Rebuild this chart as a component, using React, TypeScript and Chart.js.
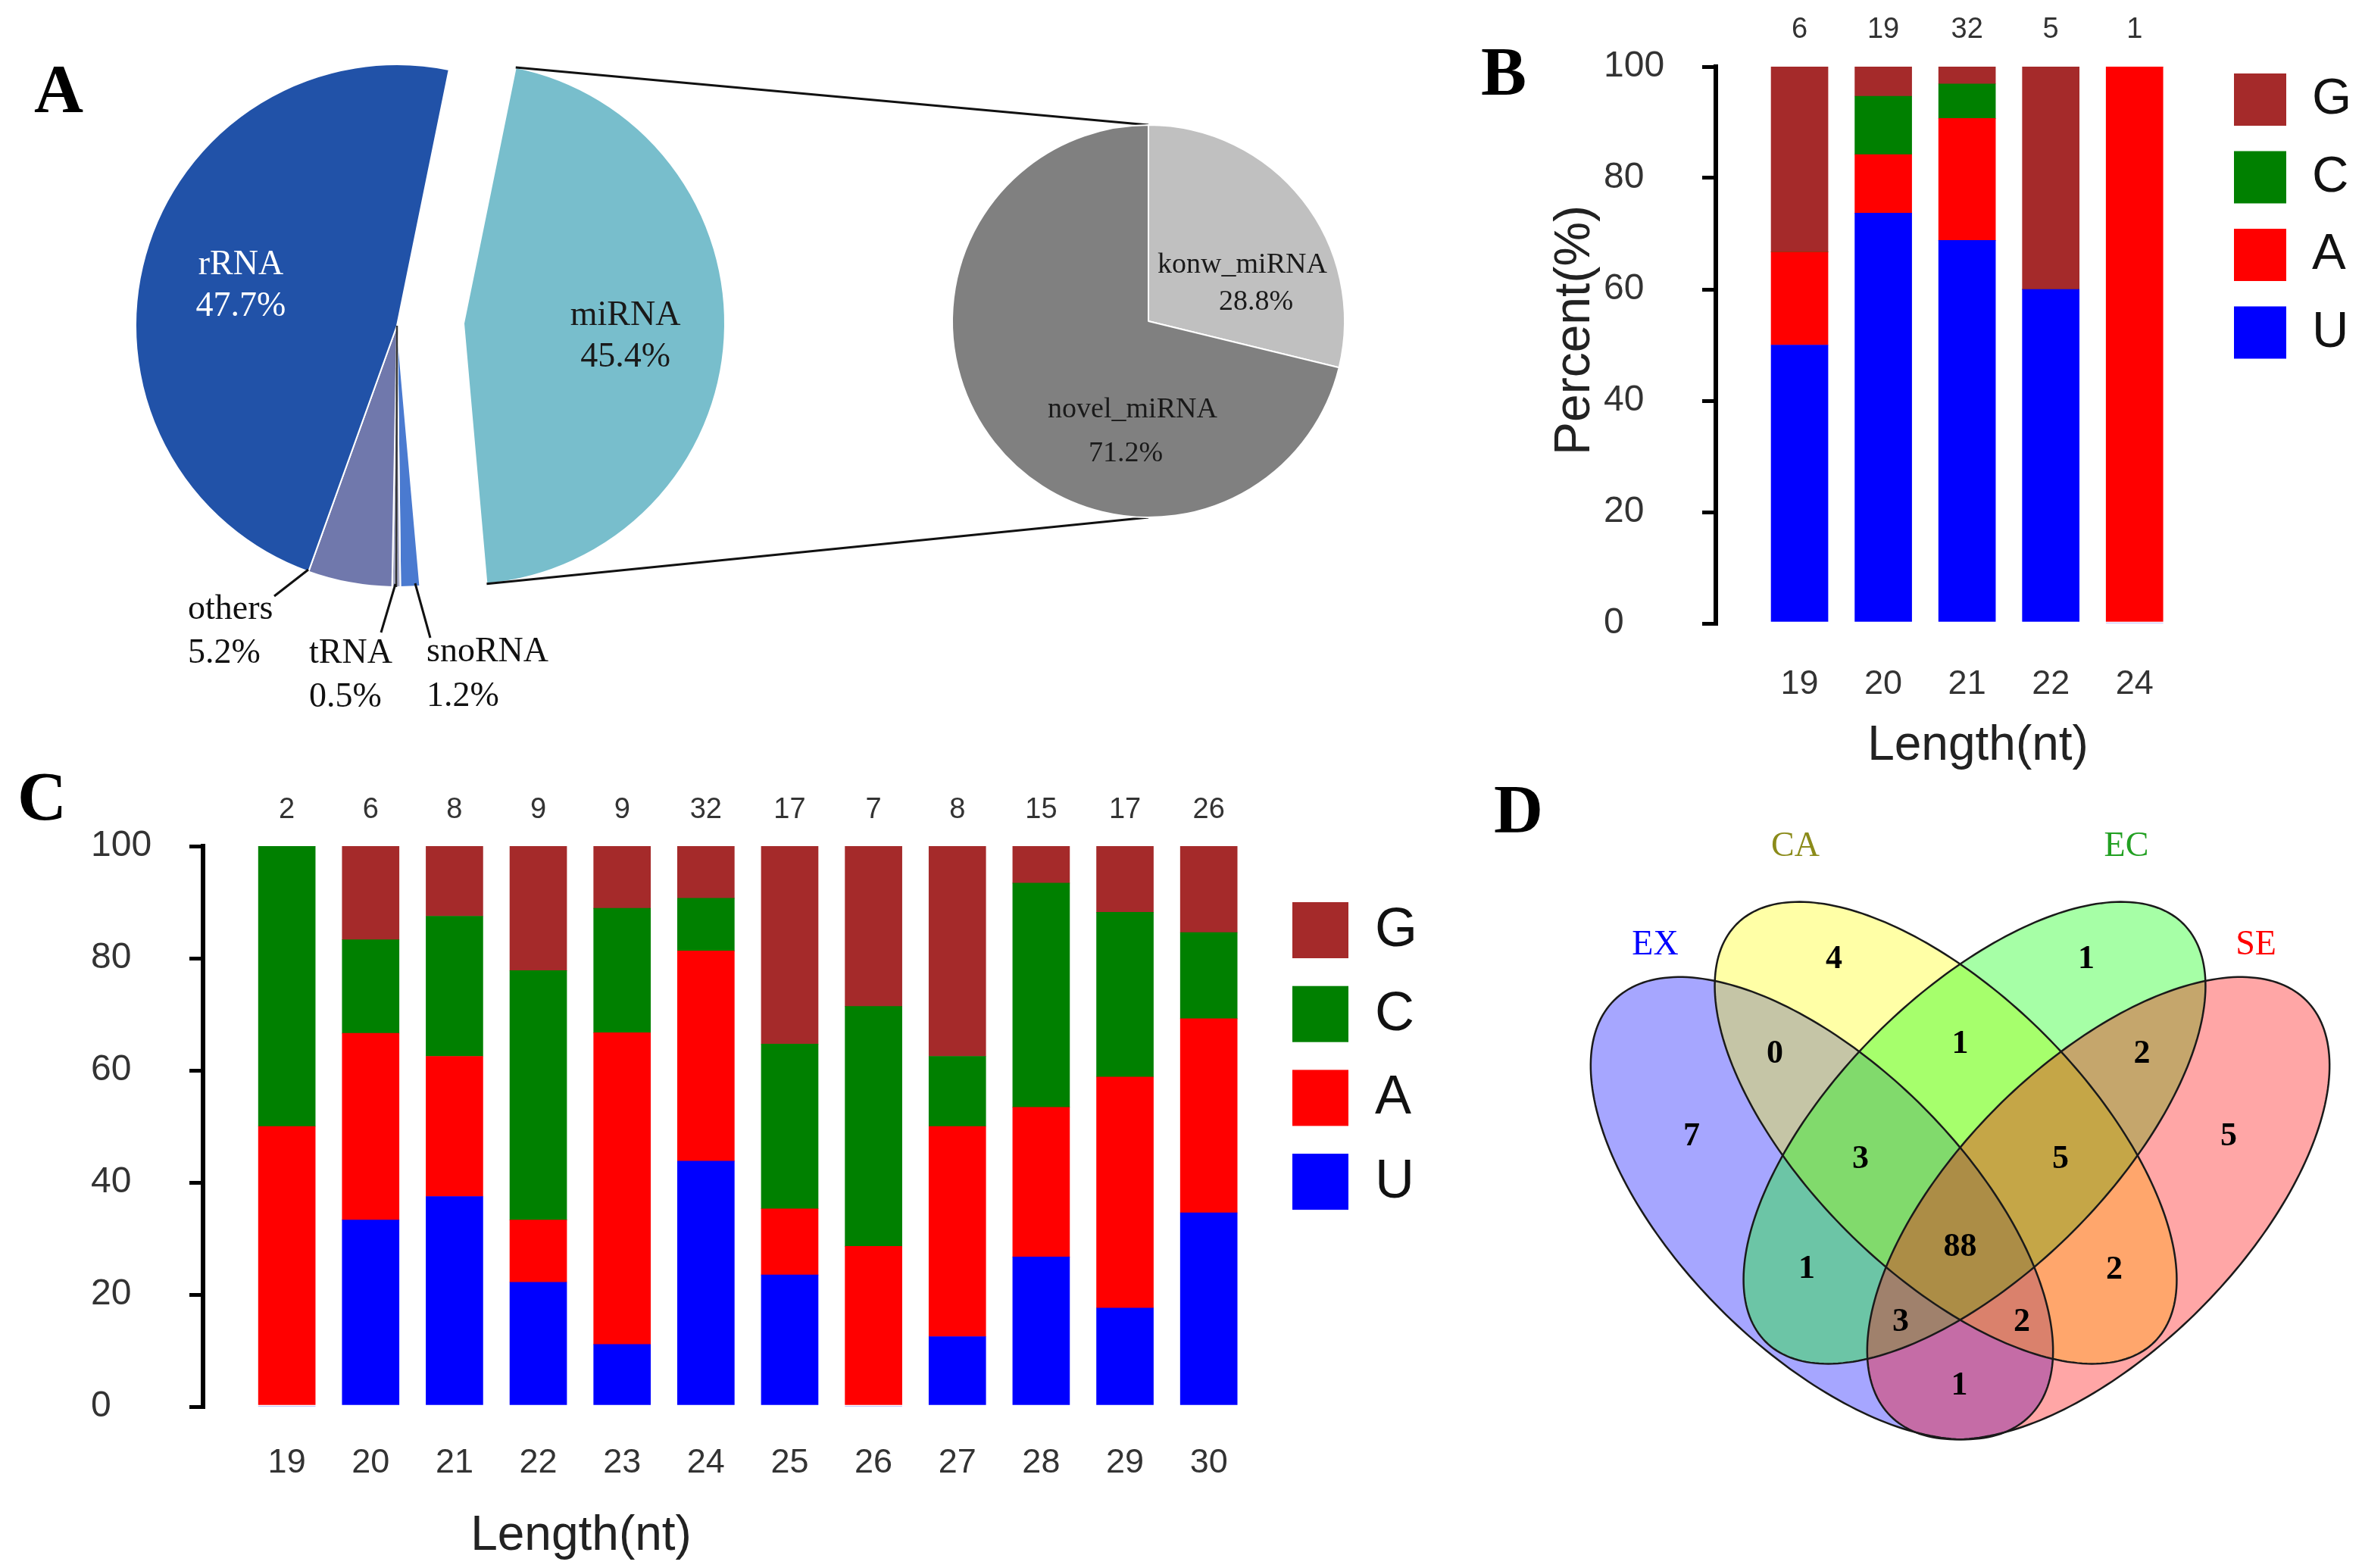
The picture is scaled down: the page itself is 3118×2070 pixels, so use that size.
import React, { useEffect, useRef } from 'react';
import { Chart, registerables } from 'chart.js';

Chart.register(...registerables);

// ---------------- data ----------------
const PIE_LABELS = ['miRNA', 'snoRNA', 'tRNA', 'others', 'rRNA'];
const PIE_VALUES = [45.4, 1.2, 0.5, 5.2, 47.7];

const MIRNA_LABELS = ['konw_miRNA', 'novel_miRNA'];
const MIRNA_VALUES = [28.8, 71.2];

const BASES = ['U', 'A', 'C', 'G'];

const B_LENGTHS = ['19', '20', '21', '22', '24'];
const B_COUNTS = [6, 19, 32, 5, 1];
const B_U = [50.0, 73.7, 68.8, 60.0, 0];
const B_A = [16.7, 10.5, 21.9, 0, 100];
const B_C = [0, 10.5, 6.2, 0, 0];
const B_G = [33.3, 5.3, 3.1, 40.0, 0];

const C_LENGTHS = ['19', '20', '21', '22', '23', '24', '25', '26', '27', '28', '29', '30'];
const C_COUNTS = [2, 6, 8, 9, 9, 32, 17, 7, 8, 15, 17, 26];
const C_U = [0, 33.3, 37.5, 22.2, 11.1, 43.8, 23.5, 0, 12.5, 26.7, 17.6, 34.6];
const C_A = [50.0, 33.3, 25.0, 11.1, 55.6, 37.5, 11.8, 28.6, 37.5, 26.7, 41.2, 34.6];
const C_C = [50.0, 16.7, 25.0, 44.5, 22.2, 9.4, 29.4, 42.8, 12.5, 40.0, 29.4, 15.4];
const C_G = [0, 16.7, 12.5, 22.2, 11.1, 9.3, 35.3, 28.6, 37.5, 6.6, 11.8, 15.4];

const VENN_SETS = ['EX', 'CA', 'EC', 'SE'];
const VENN_REGIONS = ['EX', 'CA', 'EC', 'SE', 'EX&CA', 'CA&EC', 'EC&SE', 'EX&EC', 'CA&SE', 'EX&SE',
  'EX&CA&EC', 'CA&EC&SE', 'EX&EC&SE', 'EX&CA&SE', 'EX&CA&EC&SE'];
const VENN_COUNTS = [7, 4, 1, 5, 0, 1, 2, 1, 2, 1, 3, 5, 3, 2, 88];

// ---------------- styles / layout ----------------
const SERIF = '"Liberation Serif", "Times New Roman", serif';
const SANS = '"Liberation Sans", Arial, sans-serif';
const TICK_COLOR = '#333333';

const PIE_COLORS = ['#78BECC', '#4A7AD0', '#A6AAC6', '#7078AC', '#2152A8'];
const MIRNA_COLORS = ['#C0C0C0', '#808080'];
const BASE_COLORS = ['#0000FF', '#FF0000', '#008000', '#A52A2A'];

const PIE_BOX = { left: 0, top: 0, width: 1940, height: 990 };
const PIE_CENTER = { x: 524, y: 430 };
const PIE_RADIUS = 345;
const PIE_ROTATION = 11.5;
const PIE_EXPLODE = { dx: 88, dy: -3 };
const PIE_INSIDE = { 0: '#1a1a1a', 4: '#ffffff' } as Record<number, string>;
const PIE_OUTSIDE: Record<number, any> = {
  3: { leader: [[407, 752], [362, 787]], x: 248, base: [817, 875] },
  2: { leader: [[522, 771], [503, 835]], x: 408, base: [875, 933], fromCenter: true },
  1: { leader: [[548, 770], [568, 842]], x: 563, base: [873, 932] },
};

const GRAY_BOX = { left: 1216, top: 124, width: 600, height: 600 };
const GRAY_CENTER = { x: 1516, y: 424 };
const GRAY_RADIUS = 259;
const GRAY_LABEL_OFFSETS = [
  [[124, -64], [142, -15]],
  [[-21, 127], [-30, 185]],
];

const B_BOX = { left: 1940, top: 0, width: 1178, height: 1030 };
const C_BOX = { left: 0, top: 990, width: 1950, height: 1080 };
const D_BOX = { left: 1950, top: 1020, width: 1168, height: 1050 };
const VENN_CENTER = { x: 2587.5, y: 1508.5 };

const VENN_GEOM: Record<string, any> = {
  EX: { cx: -182.5, cy: -86.5, a: 388, b: 189, rot: -45, fill: 'rgba(0,0,255,0.35)', text: '#0000FF', label: [-402.5, 248.5] },
  CA: { cx: -19, cy: 13, a: 390, b: 184, rot: -45, fill: 'rgba(255,255,0,0.35)', text: '#8B8B1A', label: [-217.5, 378.5] },
  EC: { cx: 19, cy: 13, a: 390, b: 184, rot: 45, fill: 'rgba(0,255,0,0.35)', text: '#22A022', label: [219.5, 378.5] },
  SE: { cx: 182.5, cy: -86.5, a: 388, b: 189, rot: 45, fill: 'rgba(255,0,0,0.35)', text: '#FF0000', label: [390.5, 248.5] },
};
const VENN_LABEL_POS: Record<string, number[]> = {
  'EX': [-354.5, 11.5],
  'CA': [-166.5, 245.5],
  'EC': [166.5, 245.5],
  'SE': [354.5, 11.5],
  'EX&CA': [-244.5, 120.5],
  'CA&EC': [0, 133.5],
  'EC&SE': [240, 120.5],
  'EX&EC': [-202.5, -163.5],
  'CA&SE': [203.5, -164.5],
  'EX&SE': [-1, -317.5],
  'EX&CA&EC': [-131.5, -18.5],
  'CA&EC&SE': [132.5, -18.5],
  'EX&EC&SE': [-78.5, -233.5],
  'EX&CA&SE': [81.5, -233.5],
  'EX&CA&EC&SE': [0, -134.5],
};

const PANEL_B = {
  box: B_BOX,
  labels: B_LENGTHS,
  counts: B_COUNTS,
  series: [B_U, B_A, B_C, B_G],
  padding: { left: 177, right: 245, top: 88, bottom: 107 },
  yAxisWidth: 148,
  xAxisHeight: 100,
  xTickPad: 54,
  barWidth: 75,
  countBaseline: 50,
  legend: { x: 1009, top: 97, size: 69, pitch: 102.5, textX: 1112, baseOff: 53, font: 67 },
  xTitle: { text: 'Length(nt)', x: 671, y: 1003 },
  yTitle: { text: 'Percent(%)', x: 140, y: 436 },
  letter: { text: 'B', x: 15, y: 125 },
};

const PANEL_C = {
  box: C_BOX,
  labels: C_LENGTHS,
  counts: C_COUNTS,
  series: [C_U, C_A, C_C, C_G],
  padding: { left: 120, right: 299, top: 127, bottom: 113 },
  yAxisWidth: 148,
  xAxisHeight: 100,
  xTickPad: 48,
  barWidth: 75,
  countBaseline: 90,
  legend: { x: 1706, top: 201, size: 74, pitch: 110.7, textX: 1815, baseOff: 58, font: 72 },
  xTitle: { text: 'Length(nt)', x: 767, y: 1056 },
  yTitle: null as any,
  letter: { text: 'C', x: 23, y: 92 },
};

// ---------------- helpers ----------------
function line(ctx: CanvasRenderingContext2D, pts: number[][]) {
  ctx.beginPath();
  ctx.moveTo(pts[0][0], pts[0][1]);
  for (let i = 1; i < pts.length; i++) ctx.lineTo(pts[i][0], pts[i][1]);
  ctx.stroke();
}

function letter(ctx: CanvasRenderingContext2D, t: string, x: number, y: number) {
  ctx.save();
  ctx.font = `bold 90px ${SERIF}`;
  ctx.fillStyle = '#000';
  ctx.textAlign = 'left';
  ctx.textBaseline = 'alphabetic';
  ctx.fillText(t, x, y);
  ctx.restore();
}

// ---------------- panel A ----------------
const pieDecor = {
  id: 'pieDecor',
  afterDatasetsUpdate(chart: any) {
    const el = chart.getDatasetMeta(0).data[0];
    el.x += PIE_EXPLODE.dx;
    el.y += PIE_EXPLODE.dy;
  },
  afterDatasetsDraw(chart: any) {
    const ctx: CanvasRenderingContext2D = chart.ctx;
    const meta = chart.getDatasetMeta(0);
    const vals = chart.data.datasets[0].data as number[];
    const labels = chart.data.labels as string[];
    ctx.save();
    const mi = meta.data[0];
    const R = mi.outerRadius;
    const gx = GRAY_CENTER.x - PIE_BOX.left;
    const gy = GRAY_CENTER.y - PIE_BOX.top;
    ctx.strokeStyle = '#111';
    ctx.lineWidth = 3;
    line(ctx, [[mi.x + R * Math.cos(mi.startAngle), mi.y + R * Math.sin(mi.startAngle)], [gx, gy - GRAY_RADIUS]]);
    line(ctx, [[mi.x + R * Math.cos(mi.endAngle), mi.y + R * Math.sin(mi.endAngle)], [gx, gy + GRAY_RADIUS]]);

    ctx.font = `46px ${SERIF}`;
    ctx.textAlign = 'center';
    ctx.textBaseline = 'alphabetic';
    Object.keys(PIE_INSIDE).forEach((k) => {
      const i = Number(k);
      const el = meta.data[i];
      const mid = (el.startAngle + el.endAngle) / 2;
      const r = el.outerRadius * 0.62;
      const cx = el.x + r * Math.cos(mid);
      const cy = el.y + r * Math.sin(mid);
      ctx.fillStyle = PIE_INSIDE[i];
      ctx.fillText(labels[i], cx, cy - 10);
      ctx.fillText(`${vals[i].toFixed(1)}%`, cx, cy + 45);
    });

    ctx.textAlign = 'left';
    Object.keys(PIE_OUTSIDE).forEach((k) => {
      const i = Number(k);
      const o = PIE_OUTSIDE[i];
      const el = meta.data[i];
      if (o.fromCenter) {
        const mid = (el.startAngle + el.endAngle) / 2;
        ctx.strokeStyle = '#333';
        ctx.lineWidth = 2.5;
        line(ctx, [[el.x, el.y], [el.x + el.outerRadius * Math.cos(mid), el.y + el.outerRadius * Math.sin(mid)]]);
      }
      ctx.strokeStyle = '#111';
      ctx.lineWidth = 3;
      line(ctx, o.leader);
      ctx.fillStyle = '#111';
      ctx.fillText(labels[i], o.x, o.base[0]);
      ctx.fillText(`${vals[i].toFixed(1)}%`, o.x, o.base[1]);
    });
    ctx.restore();
    letter(ctx, 'A', 45, 148);
  },
};

function makePie(canvas: HTMLCanvasElement) {
  const cx = PIE_CENTER.x - PIE_BOX.left;
  const cy = PIE_CENTER.y - PIE_BOX.top;
  return new Chart(canvas, {
    type: 'pie',
    data: {
      labels: PIE_LABELS,
      datasets: [{ data: PIE_VALUES, backgroundColor: PIE_COLORS, borderColor: '#ffffff', borderWidth: 2 }],
    },
    options: {
      responsive: false,
      animation: false,
      events: [],
      rotation: PIE_ROTATION,
      radius: PIE_RADIUS,
      layout: { padding: { left: 0, top: 0, right: PIE_BOX.width - 2 * cx, bottom: PIE_BOX.height - 2 * cy } },
      plugins: { legend: { display: false }, tooltip: { enabled: false } },
    } as any,
    plugins: [pieDecor as any],
  });
}

const grayDecor = {
  id: 'grayDecor',
  afterDatasetsDraw(chart: any) {
    const ctx: CanvasRenderingContext2D = chart.ctx;
    const el = chart.getDatasetMeta(0).data[0];
    const vals = chart.data.datasets[0].data as number[];
    const labels = chart.data.labels as string[];
    ctx.save();
    ctx.font = `38px ${SERIF}`;
    ctx.fillStyle = '#1a1a1a';
    ctx.textAlign = 'center';
    ctx.textBaseline = 'alphabetic';
    GRAY_LABEL_OFFSETS.forEach((off, i) => {
      ctx.fillText(labels[i], el.x + off[0][0], el.y + off[0][1]);
      ctx.fillText(`${vals[i].toFixed(1)}%`, el.x + off[1][0], el.y + off[1][1]);
    });
    ctx.restore();
  },
};

function makeGray(canvas: HTMLCanvasElement) {
  const cx = GRAY_CENTER.x - GRAY_BOX.left;
  const cy = GRAY_CENTER.y - GRAY_BOX.top;
  return new Chart(canvas, {
    type: 'pie',
    data: {
      labels: MIRNA_LABELS,
      datasets: [{ data: MIRNA_VALUES, backgroundColor: MIRNA_COLORS, borderColor: '#ffffff', borderWidth: 2 }],
    },
    options: {
      responsive: false,
      animation: false,
      events: [],
      rotation: 0,
      radius: GRAY_RADIUS,
      layout: { padding: { left: 0, top: 0, right: GRAY_BOX.width - 2 * cx, bottom: GRAY_BOX.height - 2 * cy } },
      plugins: { legend: { display: false }, tooltip: { enabled: false } },
    } as any,
    plugins: [grayDecor as any],
  });
}

// ---------------- panels B & C ----------------
function barDecor(p: any) {
  return {
    id: 'barDecor',
    afterDraw(chart: any) {
      const ctx: CanvasRenderingContext2D = chart.ctx;
      const xs = chart.scales.x;
      ctx.save();
      ctx.textBaseline = 'alphabetic';
      ctx.fillStyle = TICK_COLOR;
      ctx.font = `38px ${SANS}`;
      ctx.textAlign = 'center';
      p.counts.forEach((c: number, i: number) => ctx.fillText(String(c), xs.getPixelForValue(i), p.countBaseline));
      const dsets = chart.data.datasets.slice().reverse();
      dsets.forEach((ds: any, k: number) => {
        const top = p.legend.top + k * p.legend.pitch;
        ctx.fillStyle = ds.backgroundColor;
        ctx.fillRect(p.legend.x, top, p.legend.size, p.legend.size);
        ctx.fillStyle = '#111';
        ctx.font = `${p.legend.font}px ${SANS}`;
        ctx.textAlign = 'left';
        ctx.fillText(ds.label, p.legend.textX, top + p.legend.baseOff);
      });
      ctx.fillStyle = '#222';
      ctx.font = `64px ${SANS}`;
      ctx.textAlign = 'center';
      ctx.fillText(p.xTitle.text, p.xTitle.x, p.xTitle.y);
      if (p.yTitle) {
        ctx.save();
        ctx.translate(p.yTitle.x, p.yTitle.y);
        ctx.rotate(-Math.PI / 2);
        ctx.font = `66px ${SANS}`;
        ctx.textBaseline = 'middle';
        ctx.fillText(p.yTitle.text, 0, 0);
        ctx.restore();
      }
      ctx.restore();
      letter(ctx, p.letter.text, p.letter.x, p.letter.y);
    },
  };
}

function makeBarChart(canvas: HTMLCanvasElement, p: any) {
  const n = p.labels.length;
  return new Chart(canvas, {
    type: 'bar',
    data: {
      datasets: p.series.map((vals: number[], k: number) => ({
        label: BASES[k],
        data: vals.map((v, i) => ({ x: i, y: v })),
        backgroundColor: BASE_COLORS[k],
        borderWidth: 0,
        barThickness: p.barWidth,
      })),
    },
    options: {
      responsive: false,
      animation: false,
      events: [],
      layout: { padding: p.padding },
      plugins: { legend: { display: false }, tooltip: { enabled: false } },
      scales: {
        x: {
          type: 'linear',
          min: -1,
          max: n - 0.5,
          offset: false,
          stacked: true,
          grid: { display: false, drawTicks: false, offset: false },
          border: { display: false },
          afterBuildTicks: (s: any) => {
            s.ticks = p.labels.map((_: string, i: number) => ({ value: i }));
          },
          ticks: {
            autoSkip: false,
            maxRotation: 0,
            minRotation: 0,
            padding: p.xTickPad,
            color: TICK_COLOR,
            font: { family: SANS, size: 45 },
            callback: (v: any) => p.labels[v] ?? '',
          },
          afterFit: (s: any) => {
            s.height = p.xAxisHeight;
          },
        },
        y: {
          type: 'linear',
          min: 0,
          max: 100,
          stacked: true,
          ticks: { stepSize: 20, crossAlign: 'far', color: TICK_COLOR, font: { family: SANS, size: 48 } },
          grid: { drawOnChartArea: false, drawTicks: true, tickLength: 18, lineWidth: 5, color: '#000' },
          border: { display: true, color: '#000', width: 6 },
          afterFit: (s: any) => {
            s.width = p.yAxisWidth;
          },
        },
      },
    } as any,
    plugins: [barDecor(p) as any],
  });
}

// ---------------- panel D (Venn) ----------------
const vennDecor = {
  id: 'vennDecor',
  beforeDatasetsDraw(chart: any) {
    const ctx: CanvasRenderingContext2D = chart.ctx;
    const xs = chart.scales.x;
    const ys = chart.scales.y;
    const paths = VENN_SETS.map((s) => {
      const g = VENN_GEOM[s];
      const th = (g.rot * Math.PI) / 180;
      const path = new Path2D();
      for (let k = 0; k <= 240; k++) {
        const t = (k / 240) * Math.PI * 2;
        const u = g.a * Math.cos(t);
        const v = g.b * Math.sin(t);
        const X = g.cx + u * Math.cos(th) - v * Math.sin(th);
        const Y = g.cy + u * Math.sin(th) + v * Math.cos(th);
        const px = xs.getPixelForValue(X);
        const py = ys.getPixelForValue(Y);
        if (k === 0) path.moveTo(px, py);
        else path.lineTo(px, py);
      }
      path.closePath();
      return path;
    });
    ctx.save();
    paths.forEach((p, i) => {
      ctx.fillStyle = VENN_GEOM[VENN_SETS[i]].fill;
      ctx.fill(p);
    });
    ctx.strokeStyle = '#1a1a1a';
    ctx.lineWidth = 2.5;
    paths.forEach((p) => ctx.stroke(p));
    ctx.font = `46px ${SERIF}`;
    ctx.textAlign = 'center';
    ctx.textBaseline = 'alphabetic';
    VENN_SETS.forEach((s) => {
      const g = VENN_GEOM[s];
      ctx.fillStyle = g.text;
      ctx.fillText(s, xs.getPixelForValue(g.label[0]), ys.getPixelForValue(g.label[1]));
    });
    ctx.restore();
  },
  afterDatasetsDraw(chart: any) {
    const ctx: CanvasRenderingContext2D = chart.ctx;
    const meta = chart.getDatasetMeta(0);
    ctx.save();
    ctx.font = `bold 44px ${SERIF}`;
    ctx.fillStyle = '#000';
    ctx.textAlign = 'center';
    ctx.textBaseline = 'alphabetic';
    meta.data.forEach((pt: any, i: number) => {
      ctx.fillText(String(VENN_COUNTS[i]), pt.x, pt.y + 15);
    });
    ctx.restore();
    letter(ctx, 'D', 22, 79);
  },
};

function makeVenn(canvas: HTMLCanvasElement) {
  return new Chart(canvas, {
    type: 'scatter',
    data: {
      datasets: [{
        label: 'regions',
        data: VENN_REGIONS.map((r) => ({ x: VENN_LABEL_POS[r][0], y: VENN_LABEL_POS[r][1] })),
        pointRadius: 0,
        pointHoverRadius: 0,
      }],
    },
    options: {
      responsive: false,
      animation: false,
      events: [],
      layout: { padding: 0 },
      plugins: { legend: { display: false }, tooltip: { enabled: false } },
      scales: {
        x: { type: 'linear', display: false, min: D_BOX.left - VENN_CENTER.x, max: D_BOX.left + D_BOX.width - VENN_CENTER.x },
        y: { type: 'linear', display: false, min: VENN_CENTER.y - (D_BOX.top + D_BOX.height), max: VENN_CENTER.y - D_BOX.top },
      },
    } as any,
    plugins: [vennDecor as any],
  });
}

// ---------------- component ----------------
export default function App() {
  const pieRef = useRef<HTMLCanvasElement>(null);
  const grayRef = useRef<HTMLCanvasElement>(null);
  const bRef = useRef<HTMLCanvasElement>(null);
  const cRef = useRef<HTMLCanvasElement>(null);
  const dRef = useRef<HTMLCanvasElement>(null);

  useEffect(() => {
    document.body.style.margin = '0';
    const charts = [
      makePie(pieRef.current as HTMLCanvasElement),
      makeGray(grayRef.current as HTMLCanvasElement),
      makeBarChart(bRef.current as HTMLCanvasElement, PANEL_B),
      makeBarChart(cRef.current as HTMLCanvasElement, PANEL_C),
      makeVenn(dRef.current as HTMLCanvasElement),
    ];
    return () => charts.forEach((c) => c.destroy());
  }, []);

  const cv = (ref: any, box: any) => (
    <canvas
      ref={ref}
      width={box.width}
      height={box.height}
      style={{ position: 'absolute', left: box.left, top: box.top, width: box.width, height: box.height }}
    />
  );

  return (
    <div style={{ position: 'absolute', left: 0, top: 0, width: 3118, height: 2070, background: '#ffffff', overflow: 'hidden' }}>
      {cv(pieRef, PIE_BOX)}
      {cv(grayRef, GRAY_BOX)}
      {cv(bRef, B_BOX)}
      {cv(cRef, C_BOX)}
      {cv(dRef, D_BOX)}
    </div>
  );
}
